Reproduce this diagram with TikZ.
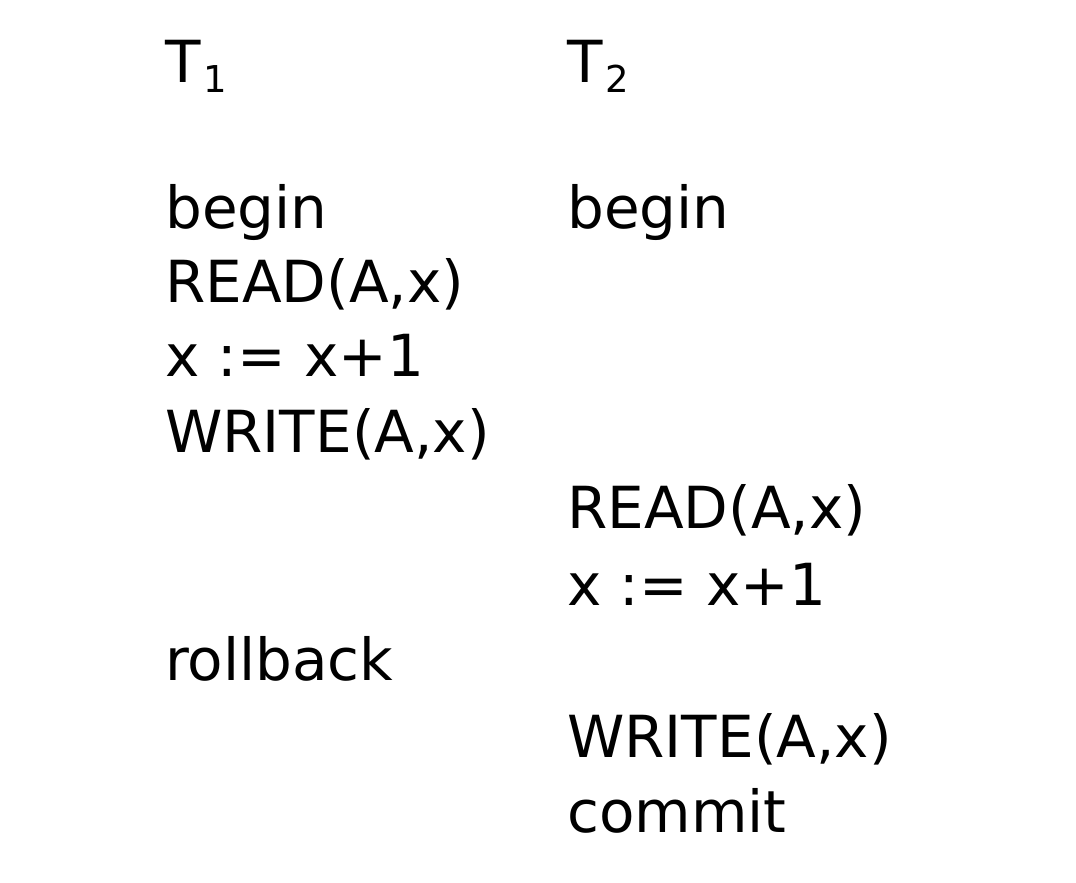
\documentclass[tikz,border=0pt]{standalone}
\usepackage{fontspec}
\setmainfont{DejaVu Sans}
\newcommand{\mysub}[1]{\kern0.05em\raisebox{-0.18em}{\fontsize{37}{40}\selectfont #1}}
\begin{document}
\begin{tikzpicture}[x=1pt,y=-1pt,
  txt/.style={anchor=base west,inner sep=0pt,font=\fontsize{58}{66}\selectfont}]
\useasboundingbox[fill=white] (0,0) rectangle (1076,883);
\node[txt] (t1) at (165,82) {T\mysub{1}};
\node[txt] (t2) at (567,82) {T\mysub{2}};
\node[txt] (a1) at (165,228) {begin};
\node[txt] (b1) at (567,228) {begin};
\node[txt] (a2) at (165,302) {READ(A,x)};
\node[txt] (a3) at (165,376) {x := x+1};
\node[txt] (a4) at (165,452) {WRITE(A,x)};
\node[txt] (b2) at (567,528) {READ(A,x)};
\node[txt] (b3) at (567,605) {x := x+1};
\node[txt] (a5) at (165,680) {rollback};
\node[txt] (b4) at (567,757) {WRITE(A,x)};
\node[txt] (b5) at (567,832) {commit};
\end{tikzpicture}
\end{document}
